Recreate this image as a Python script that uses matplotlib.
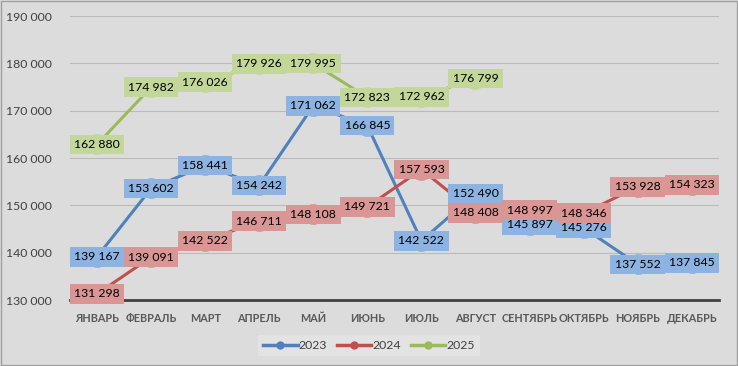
import numpy as np
import matplotlib
matplotlib.use("Agg")
import matplotlib.pyplot as plt
from matplotlib.lines import Line2D
from matplotlib.ticker import FuncFormatter

plt.rcParams["font.family"] = ["Lato", "DejaVu Sans"]

# data
months = ["ЯНВАРЬ", "ФЕВРАЛЬ", "МАРТ", "АПРЕЛЬ", "МАЙ", "ИЮНЬ", "ИЮЛЬ",
          "АВГУСТ", "СЕНТЯБРЬ", "ОКТЯБРЬ", "НОЯБРЬ", "ДЕКАБРЬ"]
y2023 = [139167, 153602, 158441, 154242, 171062, 166845, 142522, 152490,
         145897, 145276, 137552, 137845]
y2024 = [131298, 139091, 142522, 146711, 148108, 149721, 157593, 148408,
         148997, 148346, 153928, 154323]
y2025 = [162880, 174982, 176026, 179926, 179995, 172823, 172962, 176799]

series = [
    ("2023", y2023, "#4F81BD", "#8DB3E2"),
    ("2024", y2024, "#C0504D", "#DA9694"),
    ("2025", y2025, "#9BBB59", "#C4D79B"),
]

bg = "#DCDCDC"
fig = plt.figure(figsize=(7.38, 3.66), dpi=100, facecolor=bg)
ax = fig.add_axes([0.0949, 0.180, 0.879, 0.776])
ax.set_facecolor(bg)

x = np.arange(len(months))
handles = []
for i, (name, vals, lc, bc) in enumerate(series):
    xs = x[:len(vals)]
    ax.plot(xs, vals, color=lc, lw=2.2, marker="o", ms=14, mfc=bc, mec=bc,
            zorder=3 + i)
    for xi, v in zip(xs, vals):
        ax.text(xi, v, f"{v:,}".replace(",", " "), ha="center", va="center",
                fontsize=8.8, color="black", zorder=10 + i,
                bbox=dict(boxstyle="square,pad=0.35", fc=bc, ec="none"))
    handles.append(Line2D([], [], color=lc, lw=2.5, marker="o", ms=5,
                          mfc=lc, mec=lc, label=name))

ax.set_xlim(-0.5, len(months) - 0.5)
ax.set_ylim(130000, 190000)
ax.set_yticks(np.arange(130000, 190001, 10000))
ax.yaxis.set_major_formatter(FuncFormatter(lambda v, p: f"{int(v):,}".replace(",", " ")))
ax.set_xticks(x)
ax.set_xticklabels(months, fontsize=7.8, fontweight="bold", color="#595959")
ax.tick_params(axis="y", labelsize=8.8, colors="#404040", length=0, pad=13)
ax.tick_params(axis="x", length=0, pad=9)
ax.grid(axis="y", color="#BABABA", lw=0.8)
ax.set_axisbelow(True)
for s in ["top", "right", "left"]:
    ax.spines[s].set_visible(False)
ax.spines["bottom"].set_color("#404040")
ax.spines["bottom"].set_linewidth(2)

leg = fig.legend(handles=handles, loc="center", bbox_to_anchor=(0.5, 0.055),
                 ncol=3, frameon=True, fancybox=False, fontsize=8.8,
                 handlelength=2.8, columnspacing=0.8, handletextpad=0.1)
leg.get_frame().set_facecolor("#E6E6E6")
leg.get_frame().set_edgecolor("none")
for t in leg.get_texts():
    t.set_color("#404040")

fig.patches.append(plt.Rectangle((0.002, 0.003), 0.996, 0.994, transform=fig.transFigure,
                                 fill=False, ec="#A0A0A0", lw=1))

fig.savefig("out.png", dpi=100, facecolor=bg)
